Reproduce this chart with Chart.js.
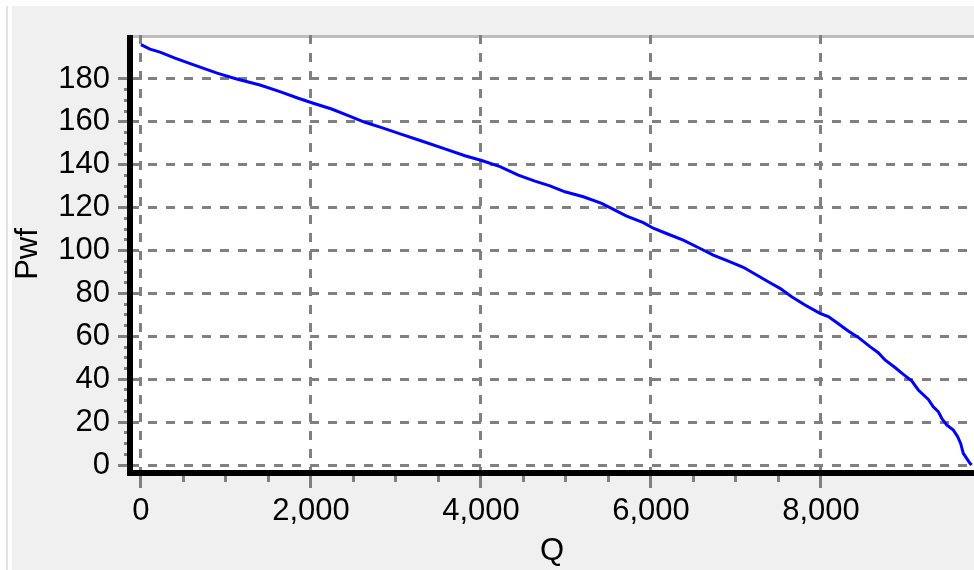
<!DOCTYPE html>
<html>
<head>
<meta charset="utf-8">
<script src="https://cdn.jsdelivr.net/npm/chart.js@4/dist/chart.umd.min.js"></script>
<style>
  html, body { margin: 0; padding: 0; background: #fff; overflow: hidden; }
  #wrap { width: 974px; height: 570px; }
</style>
</head>
<body>
<div id="wrap"><canvas id="c" width="974" height="570"></canvas></div>
<script>
// Inflow performance curve: flowing pressure (Pwf) against rate (Q)
const Q = [0, 106, 224, 400, 596, 896, 1126, 1400, 1635, 1851, 2027, 2243, 2439, 2635,
  2832, 3067, 3302, 3576, 3812, 4008, 4224, 4439, 4635, 4812, 4988, 5204, 5420, 5714,
  5910, 6027, 6204, 6380, 6596, 6733, 6910, 7086, 7243, 7400, 7518, 7655, 7812, 7988,
  8086, 8184, 8321, 8439, 8576, 8674, 8753, 8871, 8969, 9067, 9145, 9263, 9321, 9380,
  9420, 9479, 9557, 9608, 9643, 9674, 9714, 9753, 9772];
const PWF = [196, 193.9, 192.5, 189.7, 186.9, 182.7, 180, 177.2, 174.1, 171, 168.7, 166,
  162.9, 159.8, 157.3, 154.2, 151.1, 147.4, 144.2, 142, 139.1, 135.2, 132.4, 130.2, 127.4,
  125.1, 122, 116.1, 113, 110.4, 107.6, 104.9, 100.6, 97.9, 95.1, 92.2, 88.6, 85, 82.4,
  78.5, 74.6, 70.7, 69.2, 66.5, 62.5, 59.5, 55.2, 52.4, 49, 45.5, 42.3, 39.3, 35, 30.6,
  27.2, 24.9, 21.8, 18.7, 16.3, 13.2, 10.1, 5.5, 3.1, 0.8, 0];

// Labelled axis ticks
const X_TICKS = [0, 2000, 4000, 6000, 8000];
const Y_TICKS = [0, 20, 40, 60, 80, 100, 120, 140, 160, 180];
// Minor tick spacing between labelled ticks
const X_MINOR_STEP = 500;
const Y_MINOR_STEP = 5;

const FONT = { family: "'Liberation Sans', Arial, sans-serif", size: 31 };
const GRID_GREY = '#808080';

const framePlugin = {
  id: 'frame',
  beforeDraw(chart) {
    const ctx = chart.ctx, a = chart.chartArea;
    ctx.save();
    ctx.fillStyle = '#ffffff';
    ctx.fillRect(0, 0, chart.width, chart.height);
    ctx.fillStyle = '#f0f0f0';
    ctx.fillRect(12, 6, chart.width - 12, chart.height - 6);
    ctx.fillStyle = '#e4e4e4';
    ctx.fillRect(6, 6, 2, chart.height - 6);
    // plot area
    ctx.fillStyle = '#ffffff';
    ctx.fillRect(a.left, a.top, a.right - a.left, a.bottom - a.top);
    // light top edge of the plot area
    ctx.fillStyle = '#bdbdbd';
    ctx.fillRect(a.left + 3, a.top, a.right - a.left - 3, 3);
    ctx.restore();
  },
  afterDraw(chart) {
    const ctx = chart.ctx, a = chart.chartArea;
    const xs = chart.scales.x, ys = chart.scales.y;
    ctx.save();
    ctx.fillStyle = GRID_GREY;
    // minor ticks on the value axis
    const yLast = Y_TICKS[Y_TICKS.length - 1];
    for (let v = Y_TICKS[0] + Y_MINOR_STEP; v < yLast; v += Y_MINOR_STEP) {
      if (Y_TICKS.includes(v)) continue;
      const p = Math.round(ys.getPixelForValue(v) - 1.5);
      ctx.fillRect(a.left - 6, p, 6, 3);
    }
    // minor ticks on the rate axis
    const xLast = X_TICKS[X_TICKS.length - 1];
    for (let v = X_TICKS[0] + X_MINOR_STEP; v < xLast; v += X_MINOR_STEP) {
      if (X_TICKS.includes(v)) continue;
      const p = Math.round(xs.getPixelForValue(v) - 1.5);
      ctx.fillRect(p, a.bottom, 3, 9);
    }
    // heavy black axis lines
    ctx.fillStyle = '#000000';
    ctx.fillRect(a.left - 3, a.top, 6, a.bottom - a.top + 3);
    ctx.fillRect(a.left - 3, a.bottom - 3, a.right - a.left + 3, 6);
    ctx.restore();
  }
};

new Chart(document.getElementById('c'), {
  type: 'line',
  data: {
    datasets: [{
      data: Q.map((q, i) => ({ x: q, y: PWF[i] })),
      borderColor: '#0000ff',
      borderWidth: 3,
      pointRadius: 0,
      tension: 0,
      fill: false
    }]
  },
  options: {
    responsive: false,
    animation: false,
    devicePixelRatio: 1,
    layout: { padding: { top: 35, left: 0, right: 0, bottom: 0 } },
    plugins: { legend: { display: false }, tooltip: { enabled: false } },
    scales: {
      x: {
        type: 'linear',
        min: -129,
        max: 9800,
        afterBuildTicks: s => { s.ticks = X_TICKS.map(v => ({ value: v })); },
        afterFit: s => { s.height = 97; },
        grid: { color: GRID_GREY, lineWidth: 3, tickLength: 15, tickColor: GRID_GREY, tickWidth: 3 },
        border: { display: false, dash: [9, 9], dashOffset: 0 },
        ticks: {
          font: FONT, color: '#000', padding: 5, maxRotation: 0, autoSkip: false,
          callback: v => Number(v).toLocaleString('en-US')
        },
        title: { display: true, text: 'Q', font: FONT, color: '#000', padding: { top: 0, bottom: 0 } }
      },
      y: {
        type: 'linear',
        min: -3.7,
        max: 200.5,
        afterBuildTicks: s => { s.ticks = Y_TICKS.map(v => ({ value: v })); },
        afterFit: s => { s.width = 130; },
        grid: { color: GRID_GREY, lineWidth: 3, tickLength: 12, tickColor: GRID_GREY, tickWidth: 3 },
        border: { display: false, dash: [9, 9], dashOffset: 0 },
        ticks: { font: FONT, color: '#000', padding: 8, autoSkip: false },
        title: { display: true, text: 'Pwf', font: FONT, color: '#000', padding: { top: 10, bottom: 0 } }
      }
    }
  },
  plugins: [framePlugin]
});
</script>
</body>
</html>
